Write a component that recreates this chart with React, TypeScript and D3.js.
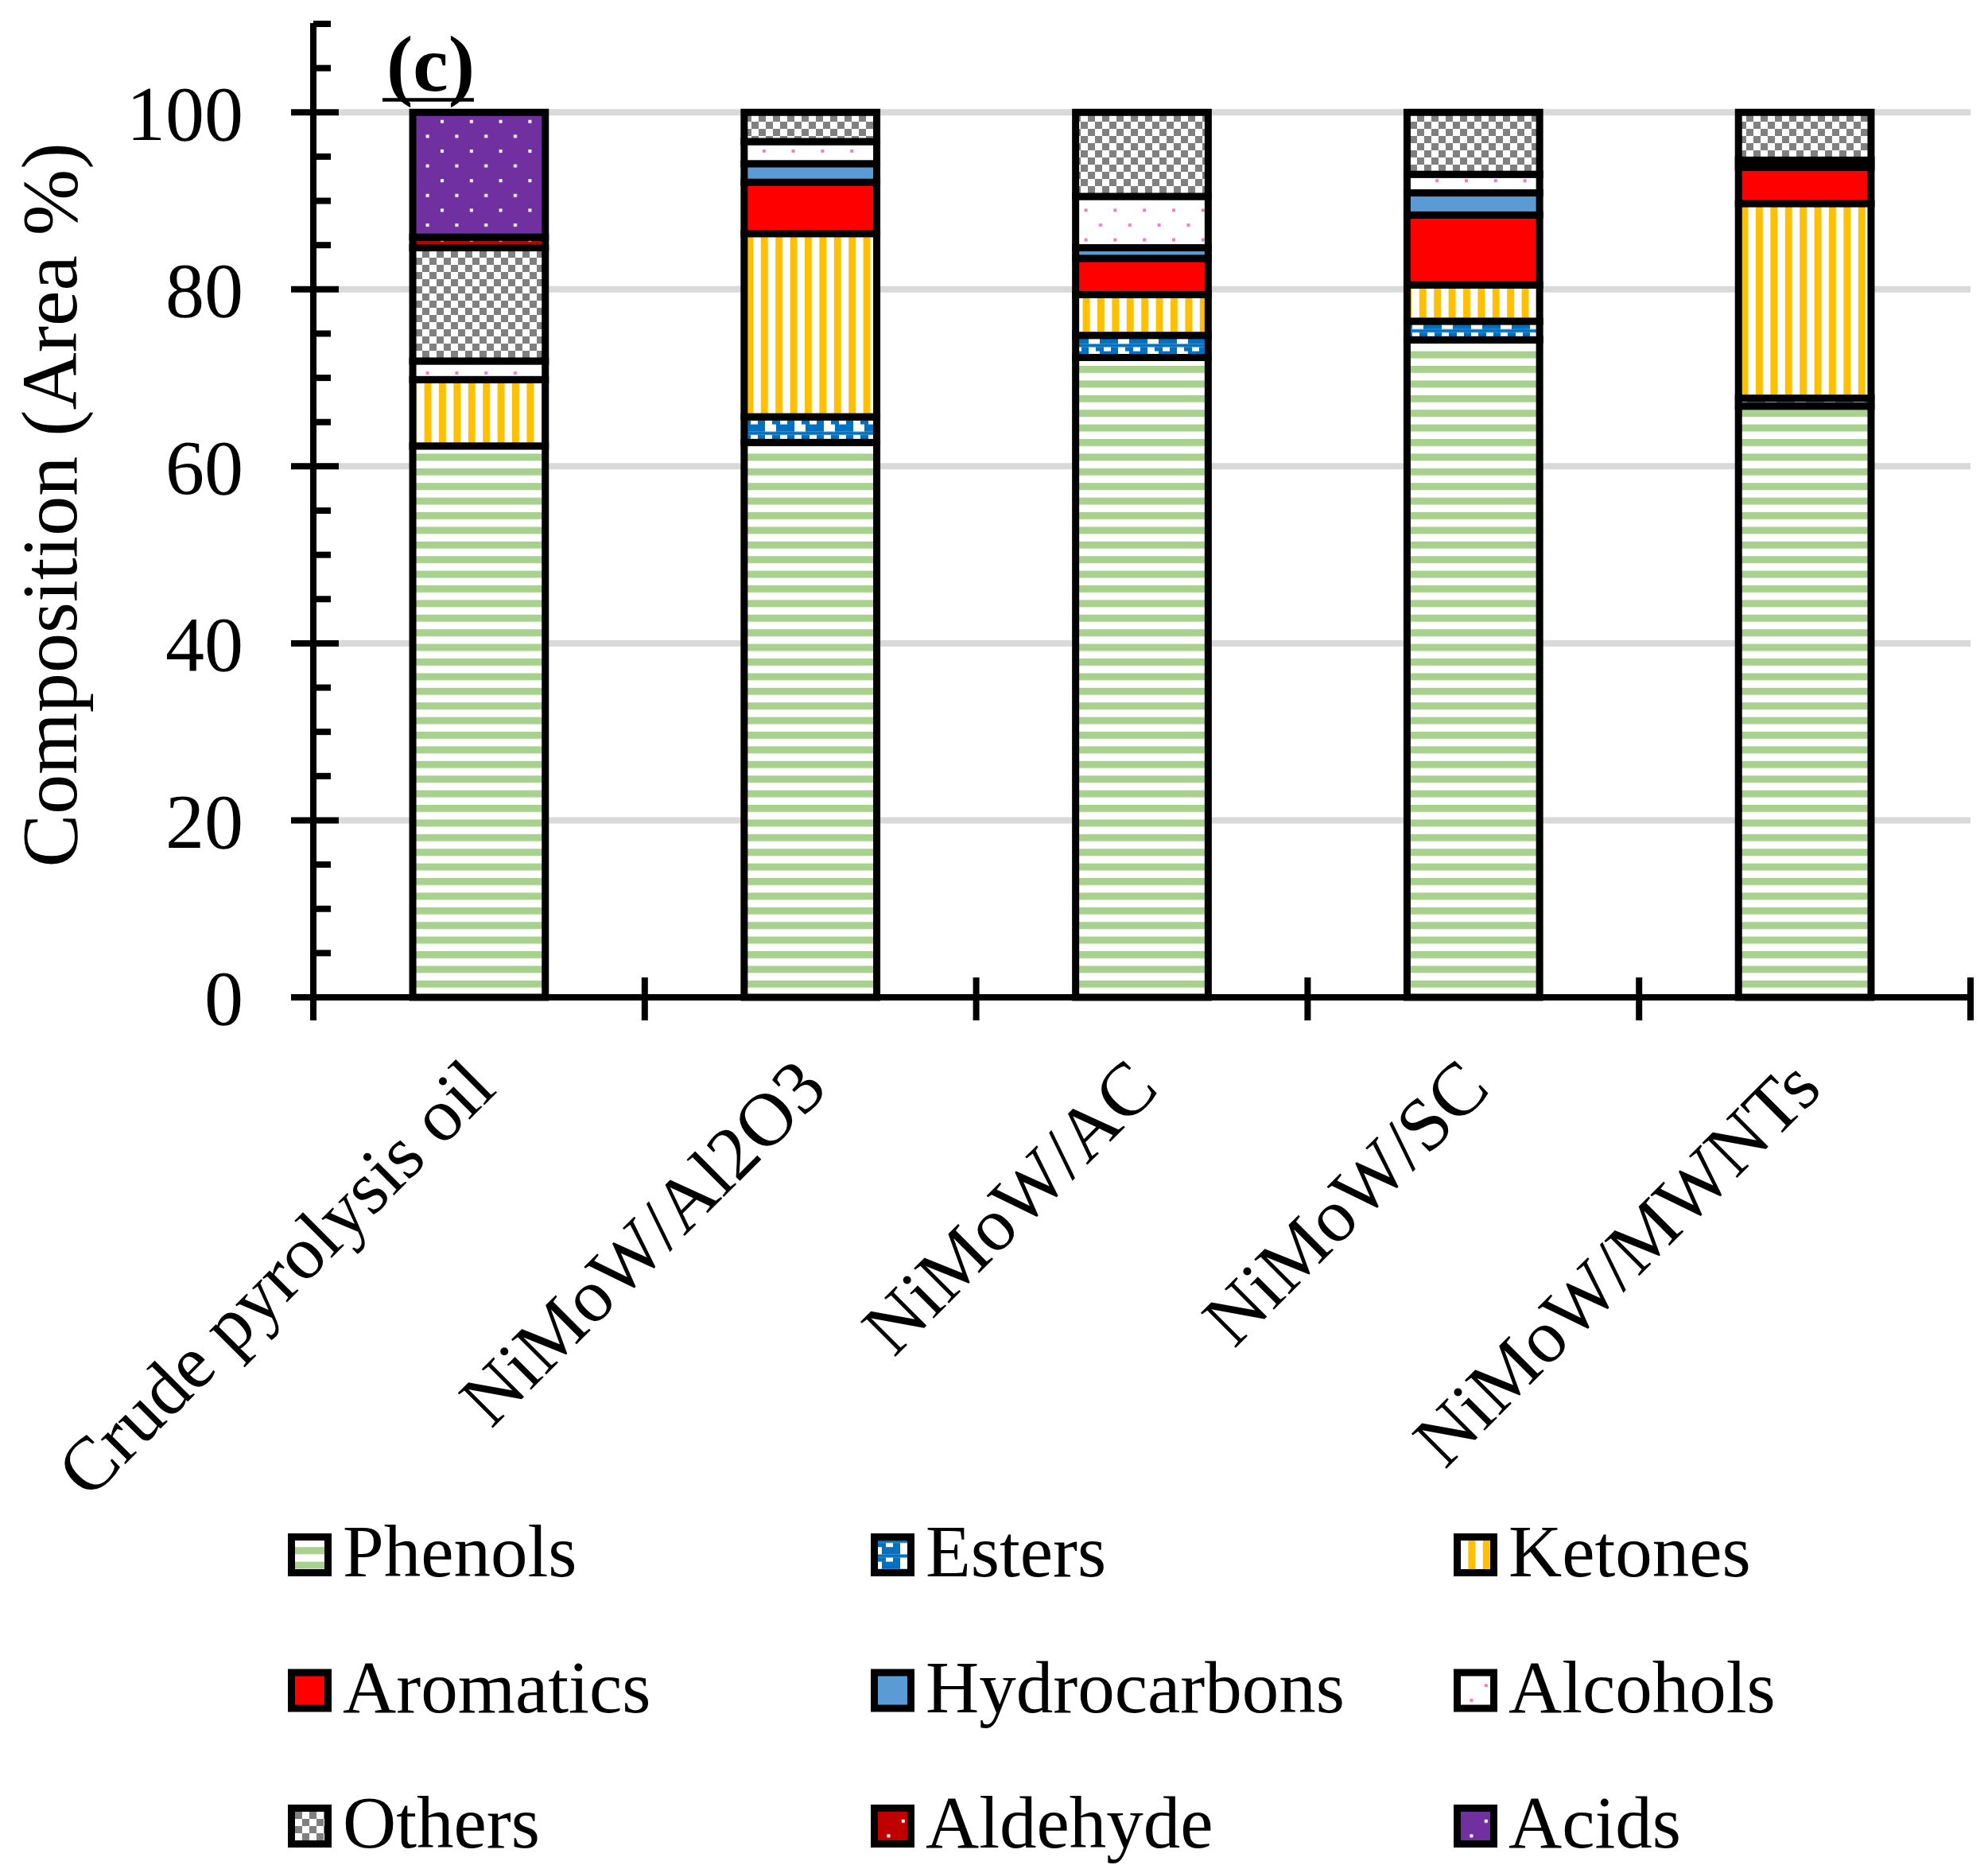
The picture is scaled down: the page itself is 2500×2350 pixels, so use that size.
import { useEffect, useRef } from "react"
import * as d3 from "d3"

// catalysts on the x axis
const categories = ["Crude pyrolysis oil", "NiMoW/Al2O3", "NiMoW/AC", "NiMoW/SC", "NiMoW/MWNTs"]

// compound classes, stacked bottom -> top (same order as the legend)
const seriesNames = ["Phenols", "Esters", "Ketones", "Aromatics", "Hydrocarbons", "Alcohols", "Others", "Aldehyde", "Acids"]

// composition, area %
const phenols = [62.3, 62.7, 72.3, 74.3, 66.8]
const esters = [0, 2.9, 2.5, 2.1, 0.9]
const ketones = [7.5, 20.7, 4.6, 4.1, 22.0]
const aromatics = [0, 5.8, 4.1, 7.9, 4.1]
const hydrocarbons = [0, 2.1, 1.2, 2.5, 0]
const alcohols = [2.1, 2.5, 5.8, 2.1, 0.8]
const others = [12.8, 3.3, 9.5, 7.0, 5.4]
const aldehyde = [1.2, 0, 0, 0, 0]
const acids = [14.1, 0, 0, 0, 0]

const yTicks = [0, 20, 40, 60, 80, 100]

export default function App() {
  const svgRef = useRef<SVGSVGElement>(null)

  useEffect(() => {
    if (!svgRef.current) return
    const svg = d3.select(svgRef.current)
    svg.selectAll("*").remove()

    const font = "'Liberation Serif', 'Times New Roman', serif"
    const values = [phenols, esters, ketones, aromatics, hydrocarbons, alcohols, others, aldehyde, acids]

    const x = d3.scaleBand().domain(categories).range([394, 2478]).paddingInner(0.6).paddingOuter(0.3)
    const y = d3.scaleLinear().domain([0, 110]).range([1254, 30])

    // fill patterns
    const defs = svg.append("defs")
    const pattern = (id: string, w: number, h: number) =>
      defs.append("pattern").attr("id", id).attr("patternUnits", "userSpaceOnUse").attr("width", w).attr("height", h)

    let p = pattern("p-Phenols", 10, 18.4)
    p.append("rect").attr("width", 10).attr("height", 18.4).attr("fill", "#fff")
    p.append("rect").attr("width", 10).attr("height", 9).attr("fill", "#a9d18e")

    p = pattern("p-Esters", 37, 18.4)
    p.append("rect").attr("width", 37).attr("height", 18.4).attr("fill", "#fff")
    p.append("rect").attr("x", 14).attr("width", 23).attr("height", 9.2).attr("fill", "#0070c0")
    p.append("rect").attr("y", 9.2).attr("width", 37).attr("height", 4).attr("fill", "#0070c0")
    p.append("rect").attr("x", 9).attr("y", 13.2).attr("width", 10).attr("height", 5.2).attr("fill", "#0070c0")
    p.append("rect").attr("x", 28).attr("y", 13.2).attr("width", 9).attr("height", 5.2).attr("fill", "#0070c0")

    p = pattern("p-Ketones", 18.4, 10)
    p.append("rect").attr("width", 18.4).attr("height", 10).attr("fill", "#fff")
    p.append("rect").attr("width", 9).attr("height", 10).attr("fill", "#ffc000")

    p = pattern("p-Aromatics", 10, 10)
    p.append("rect").attr("width", 10).attr("height", 10).attr("fill", "#ff0000")

    p = pattern("p-Hydrocarbons", 10, 10)
    p.append("rect").attr("width", 10).attr("height", 10).attr("fill", "#5b9bd5")

    const dots = (id: string, bg: string, dot: string) => {
      const d = pattern(id, 36.8, 37.2)
      d.append("rect").attr("width", 36.8).attr("height", 37.2).attr("fill", bg)
      d.append("rect").attr("x", 2).attr("y", 2).attr("width", 4).attr("height", 4).attr("fill", dot)
      d.append("rect").attr("x", 20.4).attr("y", 20.6).attr("width", 4).attr("height", 4).attr("fill", dot)
    }
    dots("p-Alcohols", "#fff", "#ea80bd")
    dots("p-Aldehyde", "#c00000", "#fff")
    dots("p-Acids", "#7030a0", "#fff")

    p = pattern("p-Others", 18, 18)
    p.append("rect").attr("width", 18).attr("height", 18).attr("fill", "#fff")
    p.append("rect").attr("width", 9).attr("height", 9).attr("fill", "#808080")
    p.append("rect").attr("x", 9).attr("y", 9).attr("width", 9).attr("height", 9).attr("fill", "#808080")

    // gridlines
    svg.append("g")
      .selectAll("line")
      .data(yTicks.filter((t) => t > 0))
      .join("line")
      .attr("x1", 426)
      .attr("x2", 2478)
      .attr("y1", (d) => y(d))
      .attr("y2", (d) => y(d))
      .attr("stroke", "#d9d9d9")
      .attr("stroke-width", 8)

    // stacked bars
    const rows = categories.map((c, i) => {
      const r: any = { category: c }
      seriesNames.forEach((s, k) => (r[s] = values[k][i]))
      return r
    })
    const stacked = d3.stack().keys(seriesNames)(rows)

    const bars = svg.append("g")
    stacked.forEach((layer) => {
      bars.append("g")
        .selectAll("rect")
        .data(layer.filter((d) => d[1] - d[0] > 0))
        .join("rect")
        .attr("x", (d: any) => x(d.data.category)!)
        .attr("y", (d) => y(d[1]))
        .attr("width", x.bandwidth())
        .attr("height", (d) => y(d[0]) - y(d[1]))
        .attr("fill", `url(#p-${layer.key})`)
        .attr("stroke", "#000")
        .attr("stroke-width", 9)
    })

    // y axis
    const axis = svg.append("g").attr("stroke", "#000").attr("stroke-width", 8)
    axis.append("line").attr("x1", 394).attr("x2", 394).attr("y1", y(110) - 1).attr("y2", 1283)
    axis.selectAll(".ytick")
      .data(d3.range(0, 111, 5))
      .join("line")
      .attr("x1", (d) => (d % 20 === 0 ? 366 : 394))
      .attr("x2", (d) => (d % 20 === 0 ? 426 : 416))
      .attr("y1", (d) => y(d))
      .attr("y2", (d) => y(d))

    // x axis
    axis.append("line").attr("x1", 366).attr("x2", 2482).attr("y1", y(0)).attr("y2", y(0))
    axis.selectAll(".xtick")
      .data(d3.range(categories.length + 1).map((i) => x.range()[0] + i * x.step()))
      .join("line")
      .attr("x1", (d) => d)
      .attr("x2", (d) => d)
      .attr("y1", 1229)
      .attr("y2", 1283)

    // tick labels
    svg.append("g")
      .selectAll("text")
      .data(yTicks)
      .join("text")
      .attr("x", 306)
      .attr("y", (d) => y(d))
      .attr("dy", "0.35em")
      .attr("text-anchor", "end")
      .attr("font-family", font)
      .attr("font-size", 98)
      .text((d) => d)

    svg.append("g")
      .selectAll("text")
      .data(categories)
      .join("text")
      .attr("transform", (d) => `translate(${x(d)! + x.bandwidth() / 2 + 24},1372) rotate(-45)`)
      .attr("text-anchor", "end")
      .attr("font-family", font)
      .attr("font-size", 95)
      .text((d) => d)

    // axis title
    svg.append("text")
      .attr("transform", "translate(96,635) rotate(-90)")
      .attr("text-anchor", "middle")
      .attr("font-family", font)
      .attr("font-size", 100)
      .text("Composition (Area %)")

    // panel label
    svg.append("text")
      .attr("x", 486)
      .attr("y", 114)
      .attr("font-family", font)
      .attr("font-size", 100)
      .attr("font-weight", "bold")
      .text("(c)")
    svg.append("line")
      .attr("x1", 481)
      .attr("x2", 596)
      .attr("y1", 125.5)
      .attr("y2", 125.5)
      .attr("stroke", "#000")
      .attr("stroke-width", 4.5)

    // legend, 3 columns
    const legend = svg.append("g")
      .selectAll("g")
      .data(seriesNames)
      .join("g")
      .attr("transform", (d, i) => `translate(${362 + (i % 3) * 733},${1982 + Math.floor(i / 3) * 170.5})`)
    legend.append("rect")
      .attr("x", 4.5)
      .attr("y", -49.5)
      .attr("width", 46)
      .attr("height", 45)
      .attr("fill", (d) => `url(#p-${d})`)
      .attr("stroke", "#000")
      .attr("stroke-width", 9)
    legend.append("text")
      .attr("x", 69)
      .attr("y", 0)
      .attr("font-family", font)
      .attr("font-size", 93)
      .text((d) => d)
  }, [])

  return (
    <svg
      ref={svgRef}
      width={2500}
      height={2350}
      viewBox="0 0 2500 2350"
      style={{ position: "absolute", left: 0, top: 0, background: "#fff" }}
    />
  )
}
